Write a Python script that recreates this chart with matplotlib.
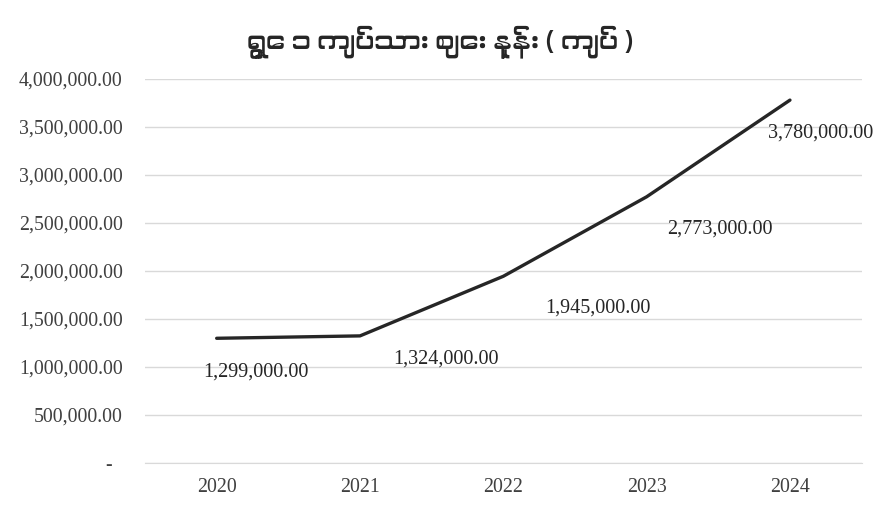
import numpy as np
import matplotlib
matplotlib.use("Agg")
import matplotlib.pyplot as plt
from matplotlib import font_manager
from matplotlib.ticker import FuncFormatter

# data
years = ["2020", "2021", "2022", "2023", "2024"]
prices = [1299000, 1324000, 1945000, 2773000, 3780000]
# label offsets (points) relative to each point
label_dx = [28, 62, 68, 53, 22]
label_dy = [-24, -17, -23, -23, -24]

title = "ရွှေ ၁ ကျပ်သား ဈေး နှုန်း ( ကျပ် )"

# look for any installed font that covers Myanmar script
myanmar_fonts = []
for f in font_manager.fontManager.ttflist:
    if any(k in f.name for k in ("Myanmar", "Padauk", "Pyidaungsu")):
        myanmar_fonts.append(f.name)
title_family = list(dict.fromkeys(myanmar_fonts)) + ["DejaVu Sans"]

num_font = "Liberation Serif"
text_color = "#404040"

fig = plt.figure(figsize=(8.81, 5.08), dpi=100)
ax = fig.add_axes([0.1646, 0.0886, 0.8134, 0.7559])

x = np.arange(len(years))
ax.plot(x, prices, color="#262626", linewidth=2.4, solid_capstyle="round")

for xi, v, dx, dy in zip(x, prices, label_dx, label_dy):
    ax.annotate(f"{v:,.2f}", (xi, v), xytext=(dx, dy), textcoords="offset points",
                ha="center", va="center", fontsize=14.5, family=num_font, color="#262626")

ax.set_xlim(-0.5, len(years) - 0.5)
ax.set_ylim(0, 4000000)
ax.set_yticks(np.arange(0, 4000001, 500000))
# accounting style: zero shown as a dash, set in from the right
ax.yaxis.set_major_formatter(FuncFormatter(lambda v, p: "-  " if v == 0 else f"{v:,.2f}"))
ax.set_xticks(x)
ax.set_xticklabels(years)

ax.grid(axis="y", color="#d9d9d9", linewidth=1)
ax.set_axisbelow(True)
for s in ["top", "right", "left"]:
    ax.spines[s].set_visible(False)
ax.spines["bottom"].set_color("#d9d9d9")
ax.tick_params(axis="both", length=0, labelsize=14.3, colors=text_color)
ax.tick_params(axis="y", pad=16)
ax.tick_params(axis="x", pad=11)
for lab in ax.get_xticklabels() + ax.get_yticklabels():
    lab.set_family(num_font)

fig.text(0.5, 0.918, title, ha="center", va="center", fontsize=19,
         family=title_family, color="#262626")

fig.savefig("out.png", dpi=100)
